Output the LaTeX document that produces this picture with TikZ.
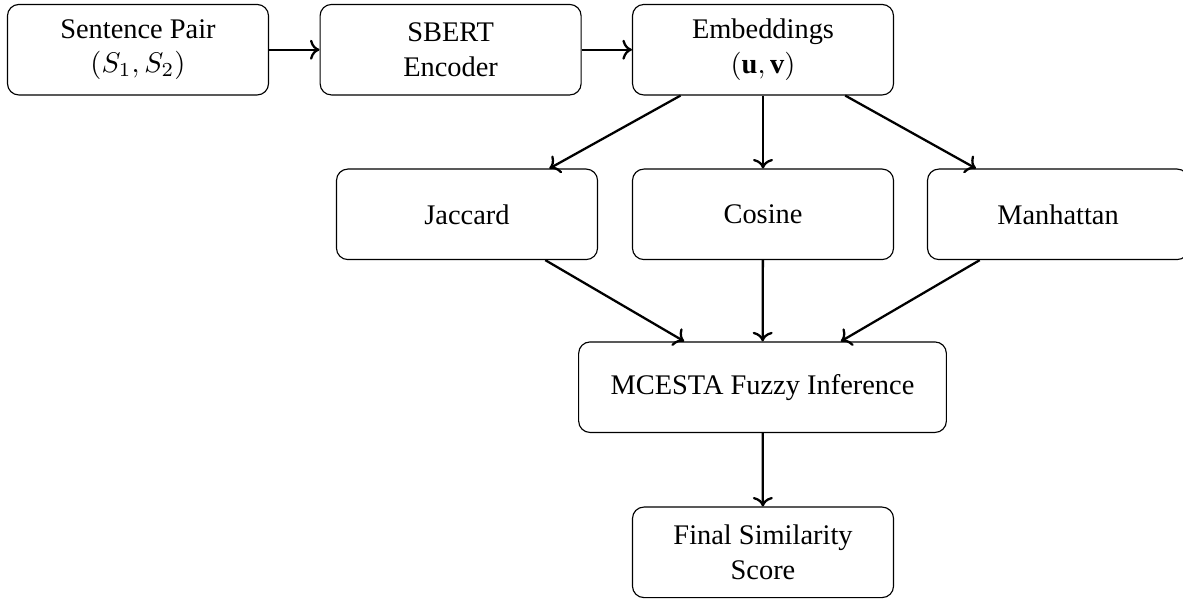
\documentclass[tikz,border=0pt]{standalone}
\usepackage{fontspec}
\setmainfont{Liberation Serif}
\usetikzlibrary{arrows.meta,positioning}
\tikzset{
  % processing block
  block/.style={rectangle, rounded corners, draw=black, align=center,
               minimum width=3.23cm, minimum height=1.12cm, inner sep=3pt},
  % wide block for the inference stage
  wblock/.style={block, minimum width=4.55cm},
  % flow arrow
  flow/.style={->, thick},
}
\begin{document}
\begin{tikzpicture}[x=0.01237cm, y=-0.01237cm]
  \useasboundingbox (0,0) rectangle (1183,599);

  % input row
  \node[block] (pair) at (138,49.7) {Sentence Pair\\$(S_1, S_2)$};
  \node[block] (sbert) at (450.6,49.7) {SBERT\\Encoder};
  \node[block] (emb) at (763,49.7) {Embeddings\\$(\mathbf{u}, \mathbf{v})$};

  % similarity measures
  \node[block] (jac) at (467,214.3) {Jaccard};
  \node[block] (cos) at (763,214.3) {Cosine};
  \node[block] (man) at (1058,214.3) {Manhattan};

  % inference and output
  \node[wblock] (fuzzy) at (762.5,387.2) {MCESTA Fuzzy Inference};
  \node[block] (score) at (763,552.3) {Final Similarity\\Score};

  \draw[flow] (pair) -- (sbert);
  \draw[flow] (sbert) -- (emb);
  \draw[flow] (emb) -- (jac);
  \draw[flow] (emb) -- (cos);
  \draw[flow] (emb) -- (man);
  \draw[flow] (jac) -- (fuzzy);
  \draw[flow] (cos) -- (fuzzy);
  \draw[flow] (man) -- (fuzzy);
  \draw[flow] (fuzzy) -- (score);
\end{tikzpicture}
\end{document}
